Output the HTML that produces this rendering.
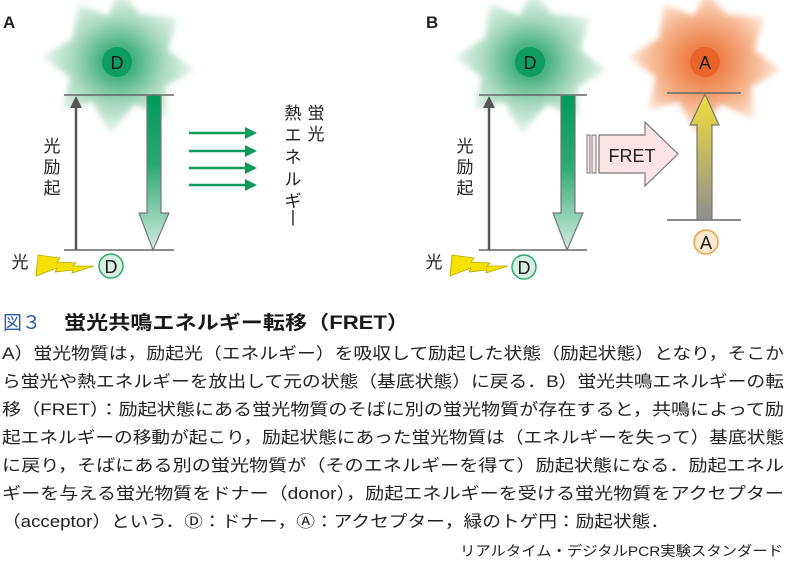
<!DOCTYPE html>
<html><head><meta charset="utf-8"><style>
html,body{margin:0;padding:0;background:#fff;}
svg{display:block;}
text{font-family:"Liberation Sans","Noto Sans CJK JP",sans-serif;}
</style></head><body>
<svg width="787" height="573" viewBox="0 0 787 573" xmlns="http://www.w3.org/2000/svg">
<defs>
<filter id="bl" x="-30%" y="-30%" width="160%" height="160%"><feGaussianBlur stdDeviation="3"/></filter>
<radialGradient id="gg"><stop offset="0" stop-color="#1a9e66"/><stop offset="0.25" stop-color="#4db486"/><stop offset="0.6" stop-color="#a9d9c1"/><stop offset="1" stop-color="#eaf6f0"/></radialGradient>
<radialGradient id="og"><stop offset="0" stop-color="#ea6a30"/><stop offset="0.3" stop-color="#ef8a55"/><stop offset="0.65" stop-color="#f6b690"/><stop offset="1" stop-color="#fdeadf"/></radialGradient>
<linearGradient id="ga" x1="0" y1="0" x2="0" y2="1"><stop offset="0" stop-color="#009a5a"/><stop offset="0.45" stop-color="#2aa874"/><stop offset="1" stop-color="#d4ece0"/></linearGradient>
<linearGradient id="ya" x1="0" y1="0" x2="0" y2="1"><stop offset="0" stop-color="#f2de3c"/><stop offset="1" stop-color="#8e8e8e"/></linearGradient>
<g id="gb"><polygon points="0,-72 20,-48 58,-44 48,-12 75,8 45,25 48,58 15,42 -10,72 -27,40 -58,48 -50,15 -78,-5 -47,-24 -42,-58 -12,-46" /></g>
</defs>
<!-- Panel A -->
<text x="3" y="28" font-size="17" font-weight="bold" fill="#222">A</text>
<use href="#gb" x="120" y="62" fill="url(#gg)" filter="url(#bl)"/>
<circle cx="117" cy="62" r="15" fill="#0e9c63"/>
<text x="117" y="69" font-size="18" text-anchor="middle" fill="#1a1a1a">D</text>
<line x1="64" y1="95" x2="174" y2="95" stroke="#666" stroke-width="1.5"/>
<line x1="64" y1="250" x2="174" y2="250" stroke="#666" stroke-width="1.5"/>
<line x1="76" y1="250" x2="76" y2="106" stroke="#555" stroke-width="2.5"/>
<polygon points="70,108 82,108 76,96" fill="#555"/>
<polygon points="147,95 161,95 161,213 169,213 153,250 139,213 147,213" fill="url(#ga)" stroke="#777" stroke-width="1.2"/>
<g stroke="#0e9c5c" stroke-width="2.5" fill="#0e9c5c">
<line x1="189" y1="133" x2="248" y2="133"/><polygon points="245,127 257,133 245,139" stroke="none"/>
<line x1="189" y1="151" x2="248" y2="151"/><polygon points="245,145 257,151 245,157" stroke="none"/>
<line x1="189" y1="168" x2="248" y2="168"/><polygon points="245,162 257,168 245,174" stroke="none"/>
<line x1="189" y1="185" x2="248" y2="185"/><polygon points="245,179 257,185 245,191" stroke="none"/>
</g>
<g font-size="17" fill="#222" text-anchor="middle">
<text x="316" y="119">蛍</text><text x="316" y="140">光</text>
<text x="293" y="119">熱</text><text x="293" y="141">エ</text><text x="293" y="163">ネ</text><text x="293" y="185">ル</text><text x="293" y="207">ギ</text><text x="293" y="222">|</text>
<text x="52" y="152">光</text><text x="52" y="173">励</text><text x="52" y="194">起</text>
<text x="20" y="268">光</text>
</g>
<polygon points="38,255 60,258 57,262 76,263 73,266 94,266 72,273 73,270 55,272 57,268 36,276" fill="#f5e000" stroke="#b8a800" stroke-width="0.8"/>
<circle cx="111" cy="266" r="12" fill="#d9eee2" stroke="#2aaa70" stroke-width="1.5"/>
<text x="111" y="273" font-size="18" text-anchor="middle" fill="#1a1a1a">D</text>
<!-- Panel B -->
<text x="426" y="28" font-size="17" font-weight="bold" fill="#222">B</text>
<use href="#gb" x="532" y="62" fill="url(#gg)" filter="url(#bl)"/>
<circle cx="530" cy="62" r="15" fill="#0e9c63"/>
<text x="530" y="69" font-size="18" text-anchor="middle" fill="#1a1a1a">D</text>
<use href="#gb" x="706" y="62" fill="url(#og)" filter="url(#bl)"/>
<circle cx="705" cy="62" r="15" fill="#e8642a"/>
<text x="705" y="69" font-size="18" text-anchor="middle" fill="#1a1a1a">A</text>
<line x1="479" y1="95" x2="587" y2="95" stroke="#666" stroke-width="1.5"/>
<line x1="479" y1="250" x2="587" y2="250" stroke="#666" stroke-width="1.5"/>
<line x1="489" y1="250" x2="489" y2="106" stroke="#555" stroke-width="2.5"/>
<polygon points="483,108 495,108 489,96" fill="#555"/>
<polygon points="561,95 575,95 575,213 583,213 567,250 553,213 561,213" fill="url(#ga)" stroke="#777" stroke-width="1.2"/>
<g font-size="17" fill="#222" text-anchor="middle">
<text x="465" y="152">光</text><text x="465" y="173">励</text><text x="465" y="194">起</text>
<text x="434" y="268">光</text>
</g>
<polygon points="452,255 474,258 471,262 490,263 487,266 508,266 486,273 487,270 469,272 471,268 450,276" fill="#f5e000" stroke="#b8a800" stroke-width="0.8"/>
<circle cx="524" cy="267" r="12" fill="#d9eee2" stroke="#2aaa70" stroke-width="1.5"/>
<text x="524" y="274" font-size="18" text-anchor="middle" fill="#1a1a1a">D</text>
<rect x="587" y="135" width="3" height="38" fill="#fbe3e6" stroke="#777" stroke-width="1"/>
<rect x="592" y="135" width="4" height="38" fill="#fbe3e6" stroke="#777" stroke-width="1"/>
<polygon points="599,135 645,135 645,122 678,154 645,186 645,173 599,173" fill="#fbe3e6" stroke="#777" stroke-width="1.2"/>
<text x="632" y="162" font-size="18" text-anchor="middle" fill="#222">FRET</text>
<line x1="667" y1="93" x2="741" y2="93" stroke="#666" stroke-width="1.5"/>
<line x1="667" y1="220" x2="741" y2="220" stroke="#666" stroke-width="1.5"/>
<polygon points="697,220 712,220 712,125 719,125 705,94 690,125 697,125" fill="url(#ya)" stroke="#777" stroke-width="1.2"/>
<circle cx="706" cy="242" r="12" fill="#fde9d0" stroke="#f0a040" stroke-width="1.5"/>
<text x="706" y="249" font-size="18" text-anchor="middle" fill="#1a1a1a">A</text>
<!-- Caption -->
<text x="3" y="329" font-size="19" fill="#2a5aa8">図３</text>
<text x="64" y="329" font-size="19" font-weight="bold" fill="#1a1a1a" textLength="345" lengthAdjust="spacingAndGlyphs">蛍光共鳴エネルギー転移（FRET）</text>
<g font-size="16.5" fill="#222">
<text x="2" y="359" textLength="782" lengthAdjust="spacingAndGlyphs">A）蛍光物質は，励起光（エネルギー）を吸収して励起した状態（励起状態）となり，そこか</text>
<text x="2" y="387" textLength="782" lengthAdjust="spacingAndGlyphs">ら蛍光や熱エネルギーを放出して元の状態（基底状態）に戻る．B）蛍光共鳴エネルギーの転</text>
<text x="2" y="415" textLength="782" lengthAdjust="spacingAndGlyphs">移（FRET）：励起状態にある蛍光物質のそばに別の蛍光物質が存在すると，共鳴によって励</text>
<text x="2" y="443" textLength="782" lengthAdjust="spacingAndGlyphs">起エネルギーの移動が起こり，励起状態にあった蛍光物質は（エネルギーを失って）基底状態</text>
<text x="2" y="471" textLength="782" lengthAdjust="spacingAndGlyphs">に戻り，そばにある別の蛍光物質が（そのエネルギーを得て）励起状態になる．励起エネル</text>
<text x="2" y="499" textLength="782" lengthAdjust="spacingAndGlyphs">ギーを与える蛍光物質をドナー（donor），励起エネルギーを受ける蛍光物質をアクセプター</text>
<text x="2" y="527" textLength="667" lengthAdjust="spacingAndGlyphs">（acceptor）という．Ⓓ：ドナー，Ⓐ：アクセプター，緑のトゲ円：励起状態．</text>
</g>
<text x="783" y="556" font-size="14" text-anchor="end" fill="#222" textLength="323" lengthAdjust="spacingAndGlyphs">リアルタイム・デジタルPCR実験スタンダード</text>
</svg>
</body></html>
